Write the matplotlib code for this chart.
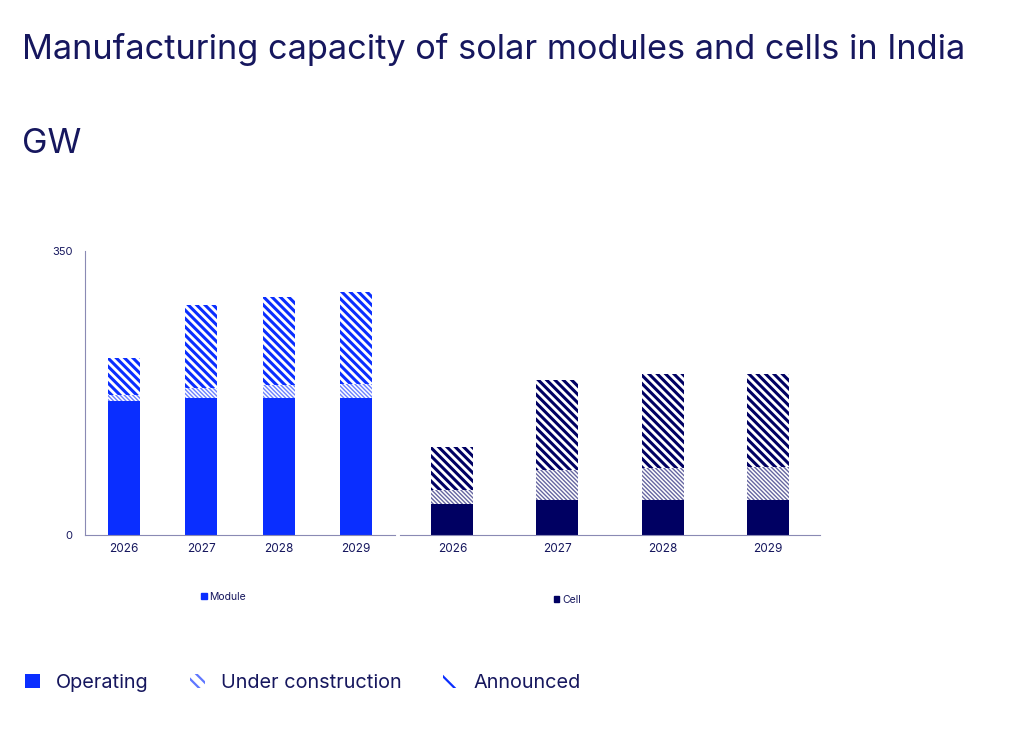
#!/usr/bin/env python3
"""
Manufacturing capacity of solar modules and cells in India (GW).
Stacked bars: operating, under construction, announced.
"""

import matplotlib
matplotlib.use('Agg')
import matplotlib.pyplot as plt
from matplotlib.patches import Patch
from matplotlib.colors import to_rgba

years = ['2026', '2027', '2028', '2029']

# Module capacity, GW
module_operating = [165, 169, 169, 169]
module_under_construction = [8, 12, 16, 17]
module_announced = [45, 102, 108, 113]

# Cell capacity, GW
cell_operating = [38, 43, 43, 43]
cell_under_construction = [18, 37, 39, 41]
cell_announced = [53, 111, 116, 115]

BLUE = '#0a2eff'
NAVY = '#000062'
TEXT = '#16175e'
AXIS = '#8a8ab4'

UC_HATCH = '\\' * 8
ANN_HATCH = '\\' * 4

plt.rcParams['font.family'] = ['Inter', 'DejaVu Sans']
plt.rcParams['hatch.linewidth'] = 2.0


def set_hatch_lw(patches, lw):
    for p in patches:
        if hasattr(p, 'set_hatch_linewidth'):
            p.set_hatch_linewidth(lw)


def stacked(ax, op, uc, ann, color, width):
    x = range(len(years))
    ax.bar(x, op, width=width, color=color, linewidth=0)
    b1 = ax.bar(x, uc, width=width, bottom=op, facecolor='white',
                edgecolor=to_rgba(color, 0.6), hatch=UC_HATCH, linewidth=0)
    set_hatch_lw(b1, 1.0)
    base = [a + b for a, b in zip(op, uc)]
    b2 = ax.bar(x, ann, width=width, bottom=base, facecolor='white',
                edgecolor=color, hatch=ANN_HATCH, linewidth=0)
    set_hatch_lw(b2, 2.2)
    ax.set_xlim(-0.5, len(years) - 0.5)
    ax.set_ylim(0, 350)
    ax.set_xticks(list(x))
    ax.set_xticklabels(years, fontsize=8.5, color=TEXT)
    ax.tick_params(length=0, pad=6)
    for s in ['top', 'right']:
        ax.spines[s].set_visible(False)
    ax.spines['bottom'].set_color(AXIS)
    ax.spines['left'].set_color(AXIS)


fig = plt.figure(figsize=(10.24, 7.37), dpi=100)
fig.patch.set_facecolor('white')

ax1 = fig.add_axes([0.0830, 0.2741, 0.3027, 0.3853])
ax2 = fig.add_axes([0.3906, 0.2741, 0.4102, 0.3853])

stacked(ax1, module_operating, module_under_construction, module_announced, BLUE, 0.41)
stacked(ax2, cell_operating, cell_under_construction, cell_announced, NAVY, 0.40)

ax1.set_yticks([0, 350])
ax1.set_yticklabels(['0', '350'], fontsize=8, color=TEXT)
ax1.tick_params(axis='y', pad=9)
ax2.set_yticks([])
ax2.spines['left'].set_visible(False)

fig.text(0.021, 0.933, 'Manufacturing capacity of solar modules and cells in India',
         fontsize=24.7, color=TEXT, va='center', ha='left')
fig.text(0.021, 0.804, 'GW', fontsize=24.7, color=TEXT, va='center', ha='left')

# small series legends under each panel
small = dict(frameon=False, fontsize=7.5, handlelength=0.55, handleheight=0.55,
             handletextpad=0.25, labelcolor=TEXT, loc='center')
fig.legend(handles=[Patch(color=BLUE, label='Module')],
           bbox_to_anchor=(0.2183, 0.190), **small)
fig.legend(handles=[Patch(color=NAVY, label='Cell')],
           bbox_to_anchor=(0.554, 0.186), **small)

# status legend at the bottom
h_op = Patch(facecolor=BLUE, linewidth=0, label='Operating')
h_uc = Patch(facecolor='white', edgecolor=to_rgba(BLUE, 0.65), hatch='\\' * 3,
             linewidth=0, label='Under construction')
h_ann = Patch(facecolor='white', edgecolor=BLUE, hatch='\\', linewidth=0,
              label='Announced')
leg = fig.legend(handles=[h_op, h_uc, h_ann], ncol=3, frameon=False, fontsize=14.3,
                 handlelength=0.75, handleheight=0.75, handletextpad=0.8,
                 columnspacing=2.1, labelcolor=TEXT, loc='center',
                 bbox_to_anchor=(0.296, 0.0733))
set_hatch_lw(leg.get_patches(), 1.6)

plt.savefig('out.png', dpi=100, facecolor='white')
print('Saved: out.png')
